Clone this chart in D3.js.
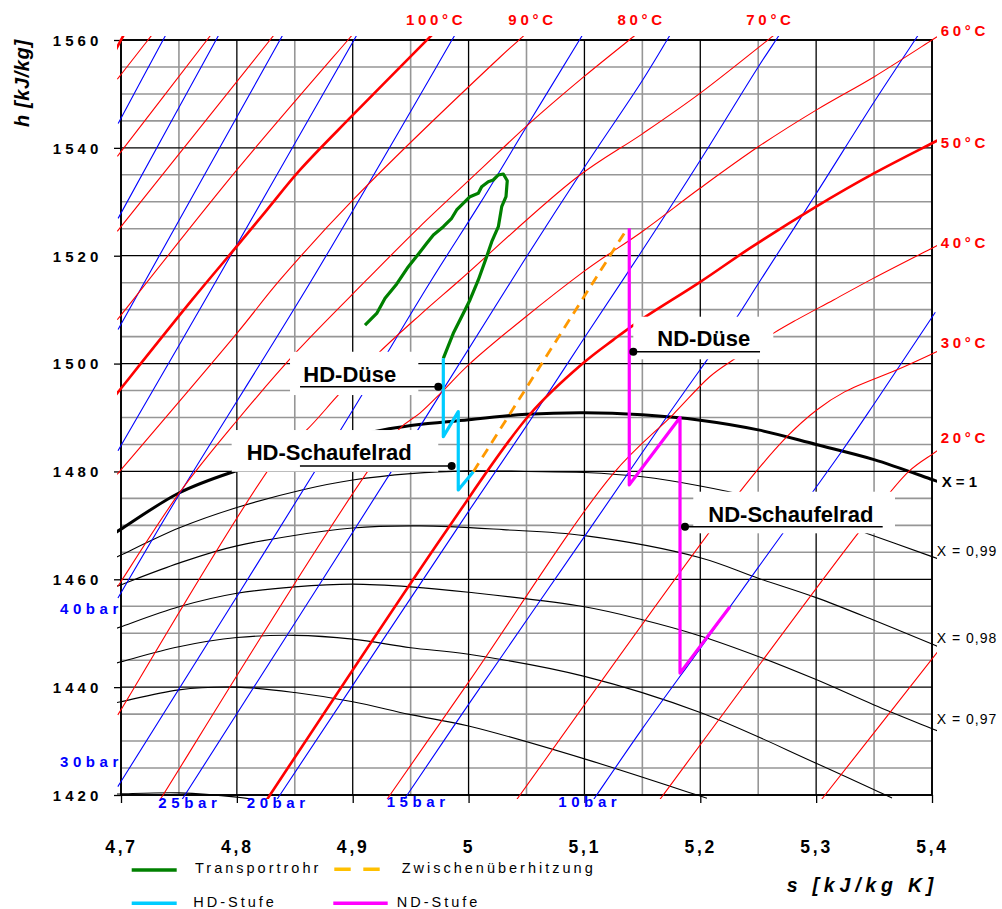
<!DOCTYPE html>
<html>
<head>
<meta charset="utf-8">
<script src="https://cdn.jsdelivr.net/npm/d3@7"></script>
<style>
body { margin: 0; background: #fff; }
text { font-family: "Liberation Sans", Arial, sans-serif; }
</style>
</head>
<body>
<svg width="1002" height="909"></svg>
<script>
// ---- axis values ----
var sTicks = [4.7, 4.8, 4.9, 5.0, 5.1, 5.2, 5.3, 5.4];
var sTickLabels = ["4,7", "4,8", "4,9", "5", "5,1", "5,2", "5,3", "5,4"];
var hTicks = [1420, 1440, 1460, 1480, 1500, 1520, 1540, 1560];

// ---- isotherms [s, h] ----
var isotherms = [
  { t: 150, pts: [[4.6965, 1558.6], [4.702, 1560.8]] },
  { t: 140, pts: [[4.7, 1553.6], [4.7233, 1560]] },
  { t: 130, pts: [[4.7, 1539.3], [4.7742, 1560]] },
  { t: 120, pts: [[4.7, 1525.4], [4.8286, 1560]] },
  { t: 110, pts: [[4.7, 1509], [4.8, 1535.9], [4.8959, 1560]] },
  { t: 100, pts: [[4.6974, 1494.7], [4.7613, 1511.8], [4.801, 1522.0], [4.826, 1528.5], [4.8545, 1535.9], [4.9002, 1546.1], [4.965, 1560.2]] },
  { t: 90, pts: [[4.7, 1480.3], [4.8, 1505.6], [4.8372, 1515.5], [4.9, 1530.3], [5.0271, 1556.8], [5.0461, 1560.5]] },
  { t: 80, pts: [[4.7, 1459.6], [4.751, 1476.2], [4.8, 1489.4], [4.8516, 1502.2], [4.912, 1515.5], [4.958, 1525.4], [5.0099, 1535.9], [5.0493, 1543.9], [5.0996, 1553.2], [5.1422, 1560.6]] },
  { t: 70, pts: [[4.7, 1435.8], [4.84, 1484], [4.8603, 1487.7], [4.889, 1494.5], [4.9235, 1502.2], [4.958, 1509], [4.9926, 1515.5], [5.0933, 1534.5], [5.15, 1542.6], [5.1997, 1550.1], [5.2601, 1560.3]] },
  { t: 60, pts: [[4.7363, 1420], [4.939, 1487.6], [4.958, 1490.8], [4.9782, 1495], [5.0012, 1500], [5.099, 1517], [5.15, 1524.5], [5.1997, 1532.5], [5.25, 1540.2], [5.3, 1547], [5.3502, 1553.2], [5.4, 1560]] },
  { t: 50, pts: [[4.8286, 1420], [4.9811, 1469.1], [5.053, 1490.6], [5.099, 1500.1], [5.1249, 1504.4], [5.1494, 1508.2], [5.1997, 1515.1], [5.2429, 1521.4], [5.3, 1529.1], [5.3502, 1535.3], [5.4, 1540.85]] },
  { t: 40, pts: [[4.9322, 1420], [5.0012, 1441.3], [5.1249, 1479.6], [5.1767, 1490.6], [5.2084, 1497.6], [5.2285, 1500.7], [5.263, 1505.6], [5.2831, 1508.1], [5.315, 1511.8], [5.3493, 1515.8], [5.4, 1521.4]] },
  { t: 30, pts: [[5.0444, 1420], [5.2343, 1476.25], [5.2746, 1486.4], [5.3005, 1491.4], [5.3249, 1494.8], [5.3724, 1499.1], [5.404, 1502.2]] },
  { t: 20, pts: [[5.168, 1420], [5.3393, 1469.4], [5.38, 1480], [5.401, 1483.3]] },
  { t: 10, pts: [[5.3077, 1420], [5.404, 1446.3]] }
];

// ---- isobars [s, h] ----
var isobars = [
  { p: "", pts: [[4.7, 1545.5], [4.7363, 1560]] },
  { p: "", pts: [[4.7, 1527.9], [4.782, 1560]] },
  { p: "", pts: [[4.7, 1507.3], [4.8372, 1560]] },
  { p: "", pts: [[4.7, 1484.8], [4.7826, 1515.5], [4.9011, 1560]] },
  { p: "40bar", pts: [[4.7, 1457.5], [4.751, 1476], [4.8646, 1515.5], [4.9857, 1560]] },
  { p: "30bar", pts: [[4.7, 1422.5], [4.889, 1487.5], [4.968, 1515.5], [5.0099, 1529.7], [5.05, 1543.9], [5.0957, 1560]] },
  { p: "25bar", pts: [[4.7552, 1420], [4.958, 1488.3], [5.05, 1519.8], [5.1, 1536.4], [5.15, 1552.5], [5.1713, 1560]] },
  { p: "20bar", pts: [[4.8372, 1420], [5.0, 1472.6], [5.057, 1490.7], [5.1, 1504.8], [5.15, 1521], [5.2, 1537.7], [5.25, 1555], [5.2653, 1560]] },
  { p: "15bar", pts: [[4.947, 1420], [5.0, 1436.8], [5.1, 1467.9], [5.171, 1490.1], [5.23, 1508.1], [5.25, 1514.8], [5.3, 1531.5], [5.35, 1548.5], [5.3853, 1560]] },
  { p: "10bar", pts: [[5.1106, 1420], [5.15, 1432.3], [5.2, 1447.2], [5.25, 1462.2], [5.322, 1483.7], [5.35, 1492.5], [5.4, 1508.6]] }
];

// ---- lines of constant quality x [s, h] ----
var qualityLines = [
  { x: 1, pts: [[4.7, 1469.3], [4.75, 1476], [4.795, 1479.8], [4.926, 1487.7], [5.0, 1489.6], [5.05, 1490.6], [5.1, 1490.9], [5.15, 1490.5], [5.2, 1489.5], [5.25, 1487.7], [5.3, 1485], [5.35, 1482.2], [5.4, 1478.5]] },
  { x: 0.99, pts: [[4.7, 1464.5], [4.75, 1469.5], [4.8, 1473.3], [4.857, 1476.6], [4.9, 1478.4], [4.95, 1479.6], [5.0, 1480.1], [5.05, 1480.0], [5.1, 1479.8], [5.15, 1479], [5.2, 1477.3], [5.25, 1475], [5.3, 1472], [5.344, 1468.5], [5.4, 1464.2]] },
  { x: 0.98, pts: [[4.7, 1459], [4.75, 1463], [4.8, 1466.2], [4.9, 1469.5], [4.958, 1469.9], [5.03, 1469.2], [5.1, 1468.1], [5.2, 1464], [5.25, 1460.2], [5.3, 1456.6], [5.35, 1452.4], [5.4, 1448]] },
  { x: 0.97, pts: [[4.7, 1451.2], [4.75, 1454.9], [4.8, 1457.4], [4.85, 1458.6], [4.9, 1459.1], [4.95, 1458.6], [5.0, 1457.6], [5.1, 1454.9], [5.15, 1452.5], [5.2, 1449.5], [5.25, 1445.7], [5.3, 1441.4], [5.35, 1436.7], [5.4, 1432.3]] },
  { x: 0.96, pts: [[4.7, 1444.7], [4.75, 1447.5], [4.8, 1449.2], [4.85, 1449.6], [4.9, 1448.9], [4.95, 1447.3], [5.0, 1446.1], [5.1, 1442], [5.2, 1435.3], [5.3, 1425.9], [5.36, 1420]] },
  { x: 0.95, pts: [[4.7, 1437.3], [4.75, 1439.5], [4.8, 1440], [4.85, 1439], [4.9, 1437.3], [4.95, 1434.9], [5.0, 1432.8], [5.1, 1426.7], [5.2, 1419.8]] },
  { x: 0.94, pts: [[4.7, 1420.2], [4.75, 1420.4], [4.8, 1419.6], [4.85, 1418]] }
];

// ---- process ----
var transportrohr = [[4.9106, 1507.15], [4.9207, 1509.3], [4.9279, 1512.1], [4.938, 1514.76], [4.948, 1517.96], [4.9581, 1520.69],
  [4.9639, 1522.3], [4.9696, 1523.84], [4.9782, 1525.38], [4.9854, 1526.94], [4.9897, 1528.48], [4.9969, 1530.02],
  [5.0012, 1530.94], [5.0084, 1531.57], [5.0113, 1532.8], [5.017, 1533.73], [5.0213, 1534.04], [5.0257, 1534.97],
  [5.03, 1535.15], [5.0334, 1533.91], [5.0323, 1530.94], [5.0286, 1529.09], [5.0257, 1525.38], [5.02, 1522.6],
  [5.0156, 1519.82], [5.0084, 1515.5], [5.0012, 1511.79], [4.9955, 1509.32], [4.9868, 1505.61], [4.9782, 1500.98]];
var hdStufe = [[4.9782, 1500.98], [4.9782, 1486.45], [4.9911, 1491.08], [4.9911, 1476.56], [5.0041, 1479.95]];
var zwischen = [[5.0041, 1479.95], [5.1365, 1524.9]];
var ndStufe = [[5.1387, 1525.1], [5.1387, 1477.5], [5.1825, 1490], [5.1825, 1442.6], [5.2256, 1454.9]];

// ---- annotations ----
var callouts = [
  { text: "HD-Düse", s: 4.9739, h: 1495.7 },
  { text: "HD-Schaufelrad", s: 4.9854, h: 1481.0 },
  { text: "ND-Düse", s: 5.1422, h: 1502.2 },
  { text: "ND-Schaufelrad", s: 5.1868, h: 1469.75 }
];
var tempTop = [{ t: "100°C", s: 4.972 }, { t: "90°C", s: 5.0552 }, { t: "80°C", s: 5.1494 }, { t: "70°C", s: 5.2606 }];
var tempRight = [{ t: "60°C", h: 1560.74 }, { t: "50°C", h: 1540.03 }, { t: "40°C", h: 1521.38 }, { t: "30°C", h: 1502.84 }, { t: "20°C", h: 1485.22 }];
var pressLabels = [
  { t: "40bar", s: 4.6473, h: 1453.6 }, { t: "30bar", s: 4.6473, h: 1425.25 },
  { t: "25bar", s: 4.7322, h: 1417.54 }, { t: "20bar", s: 4.8085, h: 1417.54 },
  { t: "15bar", s: 4.9293, h: 1417.73 }, { t: "10bar", s: 5.0774, h: 1417.84 }
];
var qualLabels = [{ t: "X = 1", h: 1477.2 }, { t: "X = 0,99", h: 1464.3 }, { t: "X = 0,98", h: 1448.1 }, { t: "X = 0,97", h: 1433.1 }];

// ---- scales ----
var svg = d3.select("svg");
var x = d3.scaleLinear().domain([4.7, 5.4]).range([121, 932]);
var y = d3.scaleLinear().domain([1420, 1560]).range([795, 40]);

// grid
var gridS = d3.range(0, 15).map(function(i) { return +(4.7 + i * 0.05).toFixed(2); });
var gridH = d3.range(0, 29).map(function(i) { return 1420 + i * 5; });
var grid = svg.append("g");

grid.selectAll(".hmin").data(gridH.filter(function(d) { return (d - 1420) % 20 !== 0; }))
  .join("line")
  .attr("x1", x(4.7)).attr("x2", x(5.4))
  .attr("y1", function(d) { return y(d); }).attr("y2", function(d) { return y(d); })
  .attr("stroke", "#969696").attr("stroke-width", 1.6);

grid.selectAll(".vmin").data(gridS.filter(function(d, i) { return i % 2 === 1; }))
  .join("line")
  .attr("x1", function(d) { return x(d); }).attr("x2", function(d) { return x(d); })
  .attr("y1", y(1420)).attr("y2", y(1560))
  .attr("stroke", "#969696").attr("stroke-width", 1.6);

grid.selectAll(".hmaj").data(hTicks).join("line")
  .attr("x1", x(4.7)).attr("x2", x(5.4))
  .attr("y1", function(d) { return y(d); }).attr("y2", function(d) { return y(d); })
  .attr("stroke", "#000").attr("stroke-width", 1.3);

grid.selectAll(".vmaj").data(sTicks).join("line")
  .attr("x1", function(d) { return x(d); }).attr("x2", function(d) { return x(d); })
  .attr("y1", y(1420)).attr("y2", y(1560))
  .attr("stroke", "#000").attr("stroke-width", 1.3);

grid.append("rect")
  .attr("x", x(4.7)).attr("y", y(1560))
  .attr("width", x(5.4) - x(4.7)).attr("height", y(1420) - y(1560))
  .attr("fill", "none").attr("stroke", "#000").attr("stroke-width", 1.8);

// axes
var xAxis = d3.axisBottom(x).tickValues(sTicks)
  .tickFormat(function(d, i) { return sTickLabels[i]; })
  .tickSize(8).tickSizeOuter(0);
var gx = svg.append("g").attr("transform", "translate(0," + y(1420) + ")").call(xAxis);
gx.select(".domain").remove();
gx.selectAll(".tick line").attr("stroke", "#000").attr("stroke-width", 1.3);
gx.selectAll(".tick text")
  .attr("y", 58.3).attr("dy", null).attr("fill", "#000")
  .style("font-family", '"Liberation Sans", Arial, sans-serif')
  .style("font-size", "17.5px").style("font-weight", "bold").style("letter-spacing", "2.8px");

var yAxis = d3.axisLeft(y).tickValues(hTicks).tickFormat(d3.format("d")).tickSize(7).tickSizeOuter(0);
var gy = svg.append("g").attr("transform", "translate(" + x(4.7) + ",0)").call(yAxis);
gy.select(".domain").remove();
gy.selectAll(".tick line").attr("stroke", "#000").attr("stroke-width", 1.3);
gy.selectAll(".tick text")
  .attr("x", -68.3).attr("dy", null).attr("y", 5.3).attr("fill", "#000")
  .attr("text-anchor", "start")
  .style("font-family", '"Liberation Sans", Arial, sans-serif')
  .style("font-size", "15px").style("font-weight", "bold").style("letter-spacing", "4.1px");

// curves
svg.append("clipPath").attr("id", "plotclip").append("rect")
  .attr("x", 117).attr("y", 36).attr("width", 820).attr("height", 763);

function toPx(pts) { return pts.map(function(d) { return [x(d[0]), y(d[1])]; }); }
function extend(p, len) {
  function out(a, b) {
    var dx = a[0] - b[0], dy = a[1] - b[1], l = Math.hypot(dx, dy) || 1;
    return [a[0] + dx / l * len, a[1] + dy / l * len];
  }
  var n = p.length;
  return [out(p[0], p[1])].concat(p, [out(p[n - 1], p[n - 2])]);
}
var smooth = d3.line().curve(d3.curveCatmullRom.alpha(0.5));
var straight = d3.line();

var curves = svg.append("g").attr("clip-path", "url(#plotclip)").attr("fill", "none");

curves.selectAll(".q").data(qualityLines).join("path")
  .attr("d", function(d) { return smooth(extend(toPx(d.pts), 7)); })
  .attr("stroke", "#000")
  .attr("stroke-width", function(d) { return d.x === 1 ? 3 : 1.1; });

curves.selectAll(".p").data(isobars).join("path")
  .attr("d", function(d) { return smooth(extend(toPx(d.pts), 6)); })
  .attr("stroke", "#0000ff").attr("stroke-width", 1.1);

curves.selectAll(".t").data(isotherms).join("path")
  .attr("d", function(d) { return smooth(extend(toPx(d.pts), 6)); })
  .attr("stroke", "#ff0000")
  .attr("stroke-width", function(d) { return d.t % 50 === 0 ? 2.6 : 1.1; });

// callout layout (pixel offsets from the dot)
var layout = [
  { bx: -148.3, by: -35, bw: 128.3, bh: 43.3, l0: -138.3, l1: 0, tx: -135, ty: -5 },
  { bx: -220, by: -36, bw: 206.6, bh: 41.7, l0: -151.7, l1: 0, tx: -205, ty: -6 },
  { bx: 0, by: -35, bw: 140, bh: 42.6, l0: 0, l1: 126.7, tx: 24, ty: -5.7 },
  { bx: 8.3, by: -35, bw: 201.7, bh: 41.6, l0: 0, l1: 197.7, tx: 23.3, ty: -5 }
];

svg.append("g").selectAll("rect").data(callouts).join("rect")
  .attr("x", function(d, i) { return x(d.s) + layout[i].bx; })
  .attr("y", function(d, i) { return y(d.h) + layout[i].by; })
  .attr("width", function(d, i) { return layout[i].bw; })
  .attr("height", function(d, i) { return layout[i].bh; })
  .attr("fill", "#fff");

// process lines
var proc = svg.append("g").attr("fill", "none").attr("stroke-linejoin", "round");
proc.append("path").attr("d", straight(toPx(transportrohr)))
  .attr("stroke", "#008000").attr("stroke-width", 3.2);
proc.append("path").attr("d", straight(toPx(zwischen)))
  .attr("stroke", "#ff9900").attr("stroke-width", 2.8).attr("stroke-dasharray", "10,7");
proc.append("path").attr("d", straight(toPx(hdStufe)))
  .attr("stroke", "#00ccff").attr("stroke-width", 3.2);
proc.append("path").attr("d", straight(toPx(ndStufe)))
  .attr("stroke", "#ff00ff").attr("stroke-width", 3.2);

// callouts
var co = svg.append("g");
co.selectAll("line").data(callouts).join("line")
  .attr("x1", function(d, i) { return x(d.s) + layout[i].l0; })
  .attr("x2", function(d, i) { return x(d.s) + layout[i].l1; })
  .attr("y1", function(d) { return y(d.h); }).attr("y2", function(d) { return y(d.h); })
  .attr("stroke", "#000").attr("stroke-width", 1.4);
co.selectAll("circle").data(callouts).join("circle")
  .attr("cx", function(d) { return x(d.s); }).attr("cy", function(d) { return y(d.h); })
  .attr("r", 4).attr("fill", "#000");
co.selectAll("text").data(callouts).join("text")
  .attr("x", function(d, i) { return x(d.s) + layout[i].tx; })
  .attr("y", function(d, i) { return y(d.h) + layout[i].ty; })
  .style("font-size", "22px").style("font-weight", "bold").attr("fill", "#000")
  .text(function(d) { return d.text; });

// temperature labels
var lab = svg.append("g").style("font-weight", "bold");
lab.selectAll(".tt").data(tempTop).join("text")
  .attr("x", function(d) { return x(d.s); }).attr("y", 25.3)
  .attr("text-anchor", "middle").attr("fill", "#ff0000")
  .style("font-size", "15px").style("letter-spacing", "3.7px")
  .text(function(d) { return d.t; });
lab.selectAll(".tr").data(tempRight).join("text")
  .attr("x", 940.7).attr("y", function(d) { return y(d.h); })
  .attr("fill", "#ff0000")
  .style("font-size", "15px").style("letter-spacing", "3.7px")
  .text(function(d) { return d.t; });

// pressure labels
lab.selectAll(".pl").data(pressLabels).join("text")
  .attr("x", function(d) { return x(d.s); }).attr("y", function(d) { return y(d.h); })
  .attr("fill", "#0000ff")
  .style("font-size", "15px").style("letter-spacing", "4.6px")
  .text(function(d) { return d.t; });

// quality labels
svg.append("g").selectAll("text").data(qualLabels).join("text")
  .attr("x", function(d, i) { return i === 0 ? 941.7 : 936.7; })
  .attr("y", function(d) { return y(d.h); })
  .attr("fill", "#000")
  .style("font-size", function(d, i) { return i === 0 ? "15px" : "14px"; })
  .style("font-weight", function(d, i) { return i === 0 ? "bold" : "normal"; })
  .style("letter-spacing", function(d, i) { return i === 0 ? "0px" : "1px"; })
  .text(function(d) { return d.t; });

// axis titles
svg.append("text")
  .attr("transform", "translate(28.5,127) rotate(-90)")
  .style("font-size", "20px").style("font-weight", "bold").style("font-style", "italic")
  .style("letter-spacing", "0.6px")
  .text("h [kJ/kg]");
svg.append("text")
  .attr("x", 786.7).attr("y", 891.7)
  .style("font-size", "19.5px").style("font-weight", "bold").style("font-style", "italic")
  .style("letter-spacing", "4.8px")
  .text("s [kJ/kg K]");

// legend
var legend = [
  { t: "Transportrohr", x0: 131.7, x1: 176.7, ly: 870, tx: 195, ty: 873.3, c: "#008000", dash: null },
  { t: "Zwischenüberhitzung", x0: 334.3, x1: 380, ly: 869.3, tx: 401.7, ty: 873.3, c: "#ffc000", dash: "16.4,12.6" },
  { t: "HD-Stufe", x0: 131.7, x1: 176.7, ly: 903.3, tx: 193.3, ty: 906.7, c: "#00ccff", dash: null },
  { t: "ND-Stufe", x0: 333.3, x1: 387.7, ly: 903.3, tx: 396.7, ty: 906.7, c: "#ff00ff", dash: null }
];
var lg = svg.append("g");
lg.selectAll("line").data(legend).join("line")
  .attr("x1", function(d) { return d.x0; }).attr("x2", function(d) { return d.x1; })
  .attr("y1", function(d) { return d.ly; }).attr("y2", function(d) { return d.ly; })
  .attr("stroke", function(d) { return d.c; }).attr("stroke-width", 3.6)
  .attr("stroke-dasharray", function(d) { return d.dash; });
lg.selectAll("text").data(legend).join("text")
  .attr("x", function(d) { return d.tx; }).attr("y", function(d) { return d.ty; })
  .style("font-size", "14.5px").style("letter-spacing", "3px")
  .text(function(d) { return d.t; });
</script>
</body>
</html>
